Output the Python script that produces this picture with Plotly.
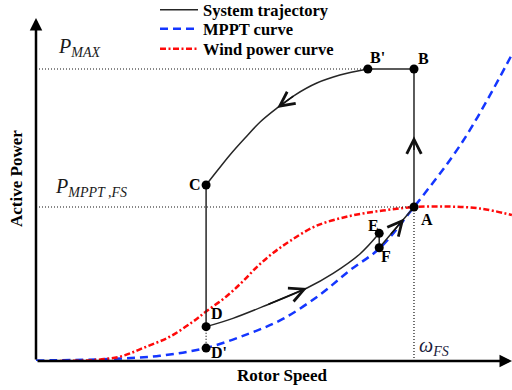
import plotly.graph_objects as go

# ---- operating points (per-unit rotor speed, per-unit active power) ----
point_names = ["A", "B", "B'", "C", "D", "D'", "E", "F"]
point_speed = [1.0, 1.0, 0.878, 0.45, 0.45, 0.45, 0.908, 0.908]
point_power = [1.0, 1.896, 1.896, 1.143, 0.223, 0.084, 0.829, 0.735]

P_MAX = 1.896
P_MPPT_FS = 1.0
W_FS = 1.0

# deceleration arc from B' down to C
arc_speed = [0.878, 0.804, 0.743, 0.685, 0.638, 0.593, 0.553, 0.513, 0.481, 0.450]
arc_power = [1.896, 1.857, 1.805, 1.727, 1.643, 1.552, 1.448, 1.338, 1.240, 1.143]

# recovery curve from D up to E
rec_speed = [0.450, 0.521, 0.611, 0.717, 0.786, 0.857, 0.908]
rec_power = [0.223, 0.277, 0.364, 0.474, 0.569, 0.695, 0.829]

# MPPT characteristic
mppt_speed = [0.0, 0.196, 0.328, 0.45, 0.566, 0.653, 0.751, 0.831, 0.91, 1.0, 1.13, 1.259]
mppt_power = [0.003, 0.013, 0.034, 0.085, 0.18, 0.273, 0.43, 0.59, 0.734, 1.0, 1.43, 1.99]

# available wind power at the given wind speed
wind_speed = [0.063, 0.151, 0.222, 0.283, 0.354, 0.415, 0.45, 0.505, 0.548, 0.587, 0.627,
              0.672, 0.741, 0.831, 0.918, 1.0, 1.087, 1.175, 1.259]
wind_power = [0.0, 0.006, 0.028, 0.084, 0.158, 0.255, 0.321, 0.422, 0.519, 0.617, 0.701,
              0.779, 0.877, 0.942, 0.977, 1.0, 1.003, 0.99, 0.948]

series_names = ["System trajectory", "MPPT curve", "Wind power curve"]

X_MAX = 1.2593
Y_MAX = 2.279
Y_ARROW = 2.227

pt = {n: (x, y) for n, x, y in zip(point_names, point_speed, point_power)}

SERIF = "Liberation Serif, Times New Roman, serif"
TRAJ = dict(color="#262626", width=1.5)
BLUE = "#1436ff"
RED = "#ff0a0a"

fig = go.Figure()

# legend entry + first straight segment A -> B -> B'
fig.add_trace(go.Scatter(
    x=[pt["A"][0], pt["B"][0], pt["B'"][0]], y=[pt["A"][1], pt["B"][1], pt["B'"][1]],
    mode="lines", line=TRAJ, name="<b>%s</b>" % series_names[0], legend="legend"))
fig.add_trace(go.Scatter(
    x=mppt_speed, y=mppt_power, mode="lines", line_shape="spline",
    line=dict(color=BLUE, width=2.5, dash="8px,5px"),
    name="<b>%s</b>" % series_names[1], legend="legend2"))
fig.add_trace(go.Scatter(
    x=wind_speed, y=wind_power, mode="lines", line_shape="spline",
    line=dict(color=RED, width=2.5, dash="6px,2.5px,2px,2.5px"),
    name="<b>%s</b>" % series_names[2], legend="legend3"))

# remaining trajectory pieces
fig.add_trace(go.Scatter(x=arc_speed, y=arc_power, mode="lines", line_shape="spline",
                         line=TRAJ, showlegend=False))
fig.add_trace(go.Scatter(x=[pt["C"][0], pt["D"][0]], y=[pt["C"][1], pt["D"][1]],
                         mode="lines", line=TRAJ, showlegend=False))
fig.add_trace(go.Scatter(x=rec_speed, y=rec_power, mode="lines", line_shape="spline",
                         line=TRAJ, showlegend=False))
fig.add_trace(go.Scatter(x=[pt["E"][0], pt["F"][0], pt["A"][0]],
                         y=[pt["E"][1], pt["F"][1], pt["A"][1]],
                         mode="lines", line=TRAJ, showlegend=False))

# dotted guide lines
DOT = dict(color="#111111", width=1.2, dash="1px,2px")
fig.add_trace(go.Scatter(x=[0, pt["B'"][0]], y=[P_MAX, P_MAX], mode="lines", line=DOT, showlegend=False))
fig.add_trace(go.Scatter(x=[0, W_FS], y=[P_MPPT_FS, P_MPPT_FS], mode="lines", line=DOT, showlegend=False))
fig.add_trace(go.Scatter(x=[W_FS, W_FS], y=[0, P_MPPT_FS], mode="lines", line=DOT, showlegend=False))
fig.add_trace(go.Scatter(x=[pt["D"][0], pt["D'"][0]], y=[pt["D"][1], pt["D'"][1]],
                         mode="lines", line=DOT, showlegend=False))

# operating point markers
fig.add_trace(go.Scatter(x=point_speed, y=point_power, mode="markers",
                         marker=dict(color="black", size=9), showlegend=False))

ann = []

# axes drawn as arrows
AX = dict(showarrow=True, arrowhead=2, arrowsize=1, arrowwidth=2.5, arrowcolor="black",
          axref="x", ayref="y", xref="x", yref="y", text="", standoff=0, startstandoff=0)
ann.append(dict(AX, x=X_MAX, y=0, ax=0, ay=0))
ann.append(dict(AX, x=0, y=Y_ARROW, ax=0, ay=0))

# direction arrows along the trajectory
DIR = dict(showarrow=True, arrowhead=5, arrowsize=1.9, arrowwidth=1.5, arrowcolor="#111111",
           axref="x", ayref="y", xref="x", yref="y", text="", standoff=0, startstandoff=0)
ann.append(dict(DIR, x=arc_speed[4], y=arc_power[4], ax=arc_speed[3], ay=arc_power[3]))
ann.append(dict(DIR, x=rec_speed[3], y=rec_power[3], ax=rec_speed[2], ay=rec_power[2]))
ann.append(dict(DIR, x=W_FS, y=1.46, ax=W_FS, ay=1.36))
fa = 0.72
ann.append(dict(DIR,
                x=pt["F"][0] + fa * (pt["A"][0] - pt["F"][0]),
                y=pt["F"][1] + fa * (pt["A"][1] - pt["F"][1]),
                ax=pt["F"][0] + 0.3 * (pt["A"][0] - pt["F"][0]),
                ay=pt["F"][1] + 0.3 * (pt["A"][1] - pt["F"][1])))

# point labels
label_offsets = {"A": (13, -13), "B": (10, 10), "B'": (10, 11), "C": (-11, 0),
                 "D": (11, 13), "D'": (13, -4), "E": (-6, 8), "F": (7, -9)}
for n in point_names:
    dx, dy = label_offsets[n]
    ann.append(dict(x=pt[n][0], y=pt[n][1], xref="x", yref="y", text="<b>%s</b>" % n,
                    showarrow=False, xshift=dx, yshift=dy,
                    font=dict(family=SERIF, size=16, color="black")))

# level labels
LAB = dict(family=SERIF, size=20, color="#1a1a1a")
ann.append(dict(x=0, y=P_MAX, xref="x", yref="y", xanchor="left", yanchor="bottom",
                xshift=20, yshift=7, showarrow=False,
                text="<i>P</i><sub><i>MAX</i></sub>", font=LAB))
ann.append(dict(x=0, y=P_MPPT_FS, xref="x", yref="y", xanchor="left", yanchor="bottom",
                xshift=17, yshift=5, showarrow=False,
                text="<i>P</i><sub><i>MPPT ,FS</i></sub>", font=LAB))
ann.append(dict(x=W_FS, y=0, xref="x", yref="y", xanchor="left", yanchor="bottom",
                xshift=3, yshift=0, showarrow=False,
                text="<i>ω</i><sub><i>FS</i></sub>", font=dict(LAB, color="#1c1c3c")))

# axis titles
TITLE = dict(family=SERIF, size=17, color="black")
ann.append(dict(x=0.517, y=0, xref="paper", yref="paper", yanchor="top", yshift=-3,
                showarrow=False, text="<b>Rotor Speed</b>", font=TITLE))
ann.append(dict(x=0, y=0.52, xref="paper", yref="paper", xanchor="right", xshift=-8,
                showarrow=False, text="<b>Active Power</b>", textangle=-90, font=TITLE))

# one legend box per series so the rows sit at their own heights
LEG = dict(x=0.25, xanchor="left", yanchor="middle", bgcolor="rgba(0,0,0,0)",
           font=dict(family=SERIF, size=16.5, color="black"), itemwidth=38)
row_y = [1.0, 0.946, 0.889]

fig.update_layout(
    width=512, height=390,
    margin=dict(l=36, r=0, t=10, b=29, autoexpand=False),
    paper_bgcolor="white", plot_bgcolor="white",
    xaxis=dict(range=[0, X_MAX], visible=False, fixedrange=True),
    yaxis=dict(range=[0, Y_MAX], visible=False, fixedrange=True),
    annotations=ann,
    showlegend=True,
    legend=dict(LEG, y=row_y[0]),
    legend2=dict(LEG, y=row_y[1]),
    legend3=dict(LEG, y=row_y[2]),
)

fig.write_html("out.html")
